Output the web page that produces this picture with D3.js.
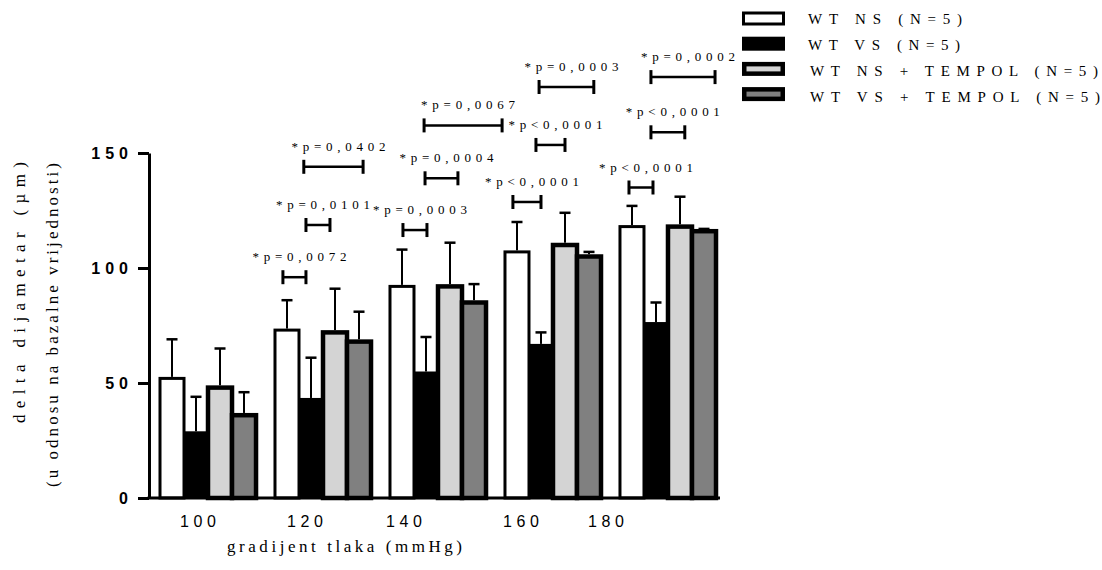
<!DOCTYPE html>
<html>
<head>
<meta charset="utf-8">
<script src="https://cdn.jsdelivr.net/npm/d3@7"></script>
<style>
  body { margin: 0; background: #fff; }
  svg { display: block; }
</style>
</head>
<body>
<svg id="chart" width="1102" height="570"></svg>
<script>
// ---- data ----
const pressures = ["100", "120", "140", "160", "180"];
const seriesNames = ["WT NS (N=5)", "WT VS (N=5)", "WT NS + TEMPOL (N=5)", "WT VS + TEMPOL (N=5)"];
const wtNS        = [52, 73, 92, 107, 118];
const wtNSsd      = [17, 13, 16, 13, 9];
const wtVS        = [29, 43.5, 55, 67, 76.5];
const wtVSsd      = [15, 17.5, 15, 5, 8.5];
const wtNStempol   = [48, 72, 92, 110, 118];
const wtNStempolSd = [17, 19, 19, 14, 13];
const wtVStempol   = [36, 68, 85, 105, 116];
const wtVStempolSd = [10, 13, 8, 2, 1];
const yTicks = [0, 50, 100, 150];
// significance brackets: group, start / end (in bar widths inside the group), height (µm), label
const brackets = [
  ["120", 0.33, 1.29, 96,    "*p=0,0072"],
  ["120", 1.29, 2.29, 118.7, "*p=0,0101"],
  ["120", 1.20, 3.67, 144,   "*p=0,0402"],
  ["140", 0.54, 1.54, 116.5, "*p=0,0003"],
  ["140", 1.46, 2.83, 139,   "*p=0,0004"],
  ["140", 1.42, 4.67, 162,   "*p=0,0067"],
  ["160", 0.33, 1.50, 128.7, "*p<0,0001"],
  ["160", 1.29, 2.50, 153.5, "*p<0,0001"],
  ["160", 1.42, 3.70, 178.7, "*p=0,0003"],
  ["180", 0.375, 1.375, 135, "*p<0,0001"],
  ["180", 1.29, 2.70, 159,   "*p<0,0001"],
  ["180", 1.29, 3.96, 183,   "*p=0,0002"]
];

const series = [
  { name: seriesNames[0], values: wtNS,       sd: wtNSsd },
  { name: seriesNames[1], values: wtVS,       sd: wtVSsd },
  { name: seriesNames[2], values: wtNStempol, sd: wtNStempolSd },
  { name: seriesNames[3], values: wtVStempol, sd: wtVStempolSd }
];

// ---- styles ----
const fills   = ["#ffffff", "#000000", "#d4d4d4", "#808080"];
const borders = [3, 0, 4.5, 4.5];
const SERIF = '"Liberation Serif", "Times New Roman", serif';
const SANS  = '"Liberation Sans", Arial, sans-serif';

const svg = d3.select("#chart");

// ---- scales ----
const y = d3.scaleLinear().domain([0, 150]).range([498, 153]);
const x = d3.scaleBand().domain(pressures).range([160, 716]).paddingInner(0.165).paddingOuter(0);
const barW = x.bandwidth() / 4;

// ---- bars ----
series.forEach((s, i) => {
  svg.append("g").selectAll("rect")
    .data(pressures.map((p, j) => ({ p, v: s.values[j] })))
    .join("rect")
    .attr("x", d => x(d.p) + i * barW)
    .attr("y", d => y(d.v))
    .attr("width", barW)
    .attr("height", d => y(0) - y(d.v))
    .attr("fill", fills[i])
    .attr("stroke", borders[i] > 0 ? "#000" : "none")
    .attr("stroke-width", borders[i]);
});

// ---- error bars (upper SD) ----
series.forEach((s, i) => {
  const g = svg.append("g").attr("stroke", "#000");
  pressures.forEach((p, j) => {
    const cx = x(p) + (i + 0.5) * barW;
    const top = y(s.values[j] + s.sd[j]);
    g.append("line")
      .attr("x1", cx).attr("x2", cx)
      .attr("y1", y(s.values[j]) - borders[i] / 2).attr("y2", top)
      .attr("stroke-width", 2);
    g.append("line")
      .attr("x1", cx - 5.5).attr("x2", cx + 5.5)
      .attr("y1", top).attr("y2", top)
      .attr("stroke-width", 2.5);
  });
});

// ---- axes ----
const yAxis = svg.append("g")
  .attr("transform", "translate(149,0)")
  .call(d3.axisLeft(y).tickValues(yTicks).tickSize(11).tickSizeOuter(0).tickPadding(5));
yAxis.select(".domain").attr("stroke-width", 3);
yAxis.selectAll(".tick line").attr("stroke-width", 3);
yAxis.selectAll(".tick text")
  .style("font-family", SANS)
  .style("font-weight", "bold")
  .style("font-size", "16px")
  .attr("letter-spacing", 5)
  .attr("fill", "#000");

svg.append("line")
  .attr("x1", 147.5).attr("x2", 720)
  .attr("y1", y(0)).attr("y2", y(0))
  .attr("stroke", "#000").attr("stroke-width", 3);

const labelNudge = [-10, -18, -34, -32, -62];
const xAxis = svg.append("g")
  .attr("transform", `translate(0,${y(0)})`)
  .call(d3.axisBottom(x).tickSize(0).tickSizeOuter(0));
xAxis.select(".domain").remove();
xAxis.selectAll(".tick text")
  .attr("y", 29).attr("dy", 0)
  .attr("dx", (d, i) => labelNudge[i] + 2.2)
  .style("font-family", SANS)
  .style("font-size", "16px")
  .attr("letter-spacing", 4.5)
  .attr("fill", "#000");

// ---- axis titles ----
svg.append("text")
  .attr("x", 227).attr("y", 552)
  .style("font-family", SERIF).style("font-size", "17px")
  .attr("textLength", 235).attr("lengthAdjust", "spacing")
  .text("gradijent tlaka (mmHg)");

svg.append("text")
  .attr("transform", "translate(25,423) rotate(-90)")
  .style("font-family", SERIF).style("font-size", "17px")
  .attr("textLength", 261).attr("lengthAdjust", "spacing")
  .text("delta dijametar (µm)");
svg.append("text")
  .attr("transform", "translate(58,487) rotate(-90)")
  .style("font-family", SERIF).style("font-size", "17px")
  .attr("textLength", 324).attr("lengthAdjust", "spacing")
  .text("(u odnosu na bazalne vrijednosti)");

// ---- significance brackets ----
const sig = svg.append("g");
brackets.forEach(([grp, a, b, level, label]) => {
  const x1 = x(grp) + a * barW;
  const x2 = x(grp) + b * barW;
  const yy = y(level);
  sig.append("line").attr("x1", x1).attr("x2", x2).attr("y1", yy).attr("y2", yy)
    .attr("stroke", "#000").attr("stroke-width", 2.5);
  [x1, x2].forEach(xx => {
    sig.append("line").attr("x1", xx).attr("x2", xx).attr("y1", yy - 7).attr("y2", yy + 7)
      .attr("stroke", "#000").attr("stroke-width", 3);
  });
  sig.append("text")
    .attr("x", (x1 + x2) / 2 + 5 - 47)
    .attr("y", yy - 16)
    .style("font-family", SERIF).style("font-size", "13px")
    .attr("textLength", 94).attr("lengthAdjust", "spacing")
    .text(label);
});

// ---- legend ----
const legendText = [154, 152, 288, 290];
const legend = svg.append("g");
series.forEach((s, i) => {
  const sw = borders[i];
  const cy = 18.5 + i * 25.2;
  legend.append("rect")
    .attr("x", 742 + sw / 2).attr("y", cy - 7 + sw / 2)
    .attr("width", 43 - sw).attr("height", 14 - sw)
    .attr("fill", fills[i])
    .attr("stroke", sw > 0 ? "#000" : "none")
    .attr("stroke-width", sw);
  legend.append("text")
    .attr("x", i < 2 ? 808 : 810)
    .attr("y", 23.5 + i * 26)
    .style("font-family", SERIF).style("font-size", "15px")
    .attr("textLength", legendText[i]).attr("lengthAdjust", "spacing")
    .text(s.name);
});
</script>
</body>
</html>
